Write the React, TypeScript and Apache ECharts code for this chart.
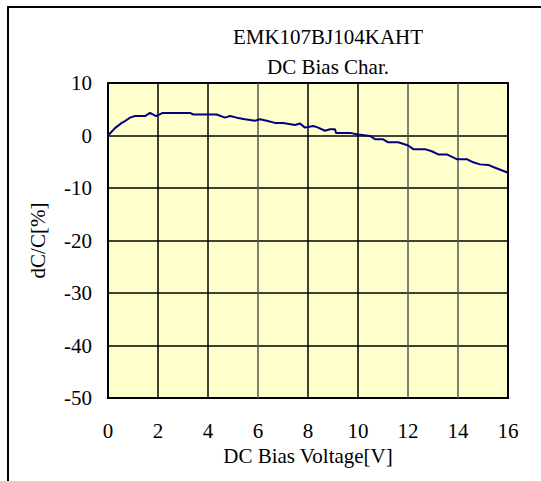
import React, { useEffect, useRef } from "react";
import * as echarts from "echarts";

const titleLines = ["EMK107BJ104KAHT", "DC Bias Char."];
const xName = "DC Bias Voltage[V]";
const yName = "dC/C[%]";
const voltage = [0, 0.28, 0.55, 0.7, 0.88, 1.08, 1.48, 1.68, 1.92, 2.19, 3.28, 3.41, 4.35, 4.68, 4.88, 5.15, 5.48, 5.88, 6.08, 6.35, 6.68, 7.01, 7.48, 7.68, 7.88, 8.21, 8.41, 8.68, 8.88, 9.08, 9.12, 9.68, 10.01, 10.48, 10.68, 10.99, 11.21, 11.61, 12.01, 12.21, 12.68, 12.95, 13.21, 13.55, 13.95, 14.35, 14.61, 14.88, 15.21, 15.41, 16.0];
const change = [0, 1.4, 2.4, 2.8, 3.4, 3.7, 3.7, 4.3, 3.7, 4.3, 4.3, 4.0, 4.0, 3.4, 3.7, 3.4, 3.1, 2.8, 3.1, 2.8, 2.4, 2.4, 2.0, 2.3, 1.5, 1.8, 1.5, 0.9, 1.2, 1.2, 0.5, 0.5, 0.2, -0.1, -0.7, -0.7, -1.3, -1.3, -1.9, -2.6, -2.6, -3.0, -3.6, -3.6, -4.5, -4.5, -5.1, -5.5, -5.6, -6.0, -7.1];

const FONT = "'Liberation Serif', 'Times New Roman', serif";

export default function App() {
  const ref = useRef<HTMLDivElement>(null);
  useEffect(() => {
    if (!ref.current) return;
    const chart = echarts.init(ref.current, undefined, { renderer: "svg" });
    const seriesData = voltage.map((v, i) => [v, change[i]]);
    chart.setOption({
      animation: false,
      backgroundColor: "#ffffff",
      title: {
        text: titleLines.join("\n"),
        left: 328,
        top: 22,
        textAlign: "center",
        padding: 0,
        textStyle: { fontFamily: FONT, fontSize: 21, fontWeight: "normal", color: "#000", lineHeight: 30 },
      },
      graphic: [
        {
          type: "rect",
          shape: { x: 8, y: 7, width: 600, height: 600 },
          style: { fill: "none", stroke: "#000", lineWidth: 2 },
          silent: true,
        },
      ],
      grid: {
        left: 108,
        top: 83,
        width: 400,
        height: 315,
        show: true,
        backgroundColor: "#FFFFCC",
        borderColor: "#000",
        borderWidth: 2,
      },
      xAxis: {
        type: "value",
        min: 0,
        max: 16,
        interval: 2,
        name: xName,
        nameLocation: "middle",
        nameGap: 46,
        nameTextStyle: { fontFamily: FONT, fontSize: 21, color: "#000" },
        axisLine: { show: false },
        axisTick: { show: false },
        axisLabel: { fontFamily: FONT, fontSize: 21, color: "#000", margin: 22 },
        splitLine: { show: true, lineStyle: { color: ["#000", "#000", "#000", "#555", "#000", "#000", "#555", "#555", "#000"], width: 1.5 } },
      },
      yAxis: {
        type: "value",
        min: -50,
        max: 10,
        interval: 10,
        name: yName,
        nameLocation: "middle",
        nameGap: 60,
        nameRotate: 90,
        nameTextStyle: { fontFamily: FONT, fontSize: 21, color: "#000" },
        axisLine: { show: false },
        axisTick: { show: false },
        axisLabel: { fontFamily: FONT, fontSize: 21, color: "#000", margin: 16 },
        splitLine: { show: true, lineStyle: { color: "#000", width: 1.5 } },
      },
      series: [
        {
          type: "line",
          data: seriesData,
          showSymbol: false,
          symbol: "none",
          lineStyle: { color: "#000080", width: 2 },
        },
      ],
    });
    return () => chart.dispose();
  }, []);
  return (
    <div
      ref={ref}
      style={{ position: "absolute", left: 0, top: 0, width: 541, height: 481 }}
    />
  );
}
